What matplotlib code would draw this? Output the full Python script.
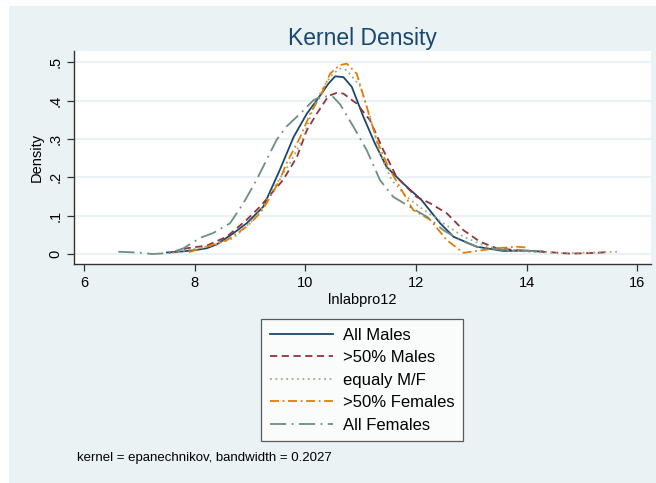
import matplotlib.pyplot as plt
from matplotlib.patches import Rectangle

plt.rcParams['font.family'] = ['Liberation Sans', 'DejaVu Sans']

labels = ["All Males", ">50% Males", "equaly M/F", ">50% Females", "All Females"]

x_all_m = [7.5, 7.8, 8.0, 8.22, 8.4, 8.7, 8.94, 9.24, 9.54, 9.79, 10.03, 10.21,
           10.42, 10.54, 10.69, 10.84, 11.05, 11.26, 11.47, 11.77, 12.1, 12.44,
           12.68, 13.1, 13.58, 14.0, 14.3]
y_all_m = [0.004, 0.007, 0.010, 0.015, 0.025, 0.054, 0.080, 0.123, 0.219, 0.305,
           0.366, 0.401, 0.444, 0.463, 0.461, 0.436, 0.358, 0.288, 0.227, 0.184,
           0.141, 0.080, 0.045, 0.019, 0.008, 0.009, 0.006]

x_gt50_m = [7.6, 7.86, 8.22, 8.58, 8.94, 9.18, 9.42, 9.6, 9.85, 10.03, 10.21,
            10.42, 10.57, 10.69, 10.93, 11.17, 11.41, 11.65, 12.01, 12.26, 12.56,
            12.86, 13.16, 13.46, 13.82, 14.3, 14.79, 15.27, 15.45]
y_gt50_m = [0.004, 0.015, 0.022, 0.045, 0.089, 0.123, 0.163, 0.193, 0.253, 0.323,
            0.366, 0.412, 0.420, 0.418, 0.392, 0.349, 0.271, 0.201, 0.149, 0.132,
            0.106, 0.062, 0.032, 0.015, 0.010, 0.006, 0.001, 0.003, 0.005]

x_eq = [7.6, 7.86, 8.34, 8.7, 9.06, 9.24, 9.48, 9.72, 9.97, 10.15, 10.33, 10.5,
        10.63, 10.75, 11.0, 11.17, 11.35, 11.56, 11.83, 12.14, 12.5, 12.86, 13.22,
        13.58, 14.06, 14.67, 15.2, 15.65]
y_eq = [0.003, 0.010, 0.023, 0.041, 0.089, 0.123, 0.184, 0.236, 0.305, 0.384,
        0.436, 0.47, 0.483, 0.479, 0.436, 0.358, 0.262, 0.193, 0.149, 0.115,
        0.080, 0.045, 0.023, 0.010, 0.006, 0.002, 0.004, 0.006]

x_gt50_f = [7.9, 8.22, 8.58, 8.94, 9.18, 9.3, 9.54, 9.66, 9.91, 10.09, 10.27,
            10.45, 10.62, 10.75, 10.93, 11.11, 11.29, 11.5, 11.71, 11.95, 12.26,
            12.56, 12.86, 13.1, 13.46, 13.82, 14.0]
y_gt50_f = [0.005, 0.019, 0.036, 0.071, 0.106, 0.132, 0.193, 0.236, 0.305, 0.366,
            0.41, 0.47, 0.492, 0.496, 0.470, 0.384, 0.297, 0.227, 0.175, 0.115,
            0.089, 0.036, 0.003, 0.008, 0.015, 0.019, 0.017]

x_all_f = [6.62, 6.95, 7.25, 7.56, 7.8, 8.1, 8.34, 8.64, 8.88, 9.12, 9.3, 9.48,
           9.66, 9.91, 10.15, 10.3, 10.5, 10.63, 10.87, 11.11, 11.35, 11.59, 11.89,
           12.2, 12.5, 12.8, 13.1, 13.46, 13.82, 14.3]
y_all_f = [0.006, 0.004, 0.0, 0.003, 0.015, 0.042, 0.055, 0.080, 0.132, 0.193,
           0.245, 0.297, 0.332, 0.366, 0.401, 0.411, 0.41, 0.39, 0.332, 0.271,
           0.193, 0.149, 0.123, 0.097, 0.062, 0.036, 0.019, 0.012, 0.010, 0.006]

series = [(x_all_m, y_all_m), (x_gt50_m, y_gt50_m), (x_eq, y_eq),
          (x_gt50_f, y_gt50_f), (x_all_f, y_all_f)]
colors = ['#1a476f', '#90353b', '#a3ab82', '#e37e00', '#6e8e84']
styles = ['-', (0, (4, 2.5)), (0, (1, 2)), (0, (5, 2, 1, 2)), (0, (9, 3, 1, 3))]

fig = plt.figure(figsize=(6.56, 4.83), dpi=100, facecolor='white')
fig.patches.append(Rectangle((9 / 656, 0), 1 - 9 / 656, 1 - 6 / 483,
                             transform=fig.transFigure, facecolor='#eaf2f3',
                             edgecolor='none', zorder=-10))

ax = fig.add_axes([74 / 656, 1 - 264 / 483, 577 / 656, 213 / 483])
ax.set_facecolor('white')

for (xs, ys), c, ls, lab in zip(series, colors, styles, labels):
    ax.plot(xs, ys, color=c, linestyle=ls, lw=1.3, label=lab)

ax.set_xlim(5.82, 16.25)
ax.set_ylim(-0.026, 0.529)
ax.set_xticks([6, 8, 10, 12, 14, 16])
ax.set_yticks([0, 0.1, 0.2, 0.3, 0.4, 0.5])
ax.set_yticklabels(['0', '.1', '.2', '.3', '.4', '.5'], rotation=90, va='center')
ax.yaxis.grid(True, color='#eaf2f3', lw=1.5)
ax.set_axisbelow(True)
for s in ['top', 'right']:
    ax.spines[s].set_visible(False)
for s in ['left', 'bottom']:
    ax.spines[s].set_color('#333333')
    ax.spines[s].set_linewidth(1.0)
ax.tick_params(direction='out', length=5, width=0.9, colors='#333333',
               labelcolor='black', labelsize=10.5)

ax.set_xlabel('lnlabpro12', fontsize=10.5, labelpad=2)
ax.set_ylabel('Density', fontsize=10.5, labelpad=3)
ax.set_title('Kernel Density', fontsize=16.5, color='#1a476f', pad=4)

leg = fig.legend(loc='upper center', bbox_to_anchor=(362 / 656, 1 - 311 / 483),
                 fontsize=12, handlelength=3.8, frameon=True, fancybox=False,
                 edgecolor='#333333', borderpad=0.5, labelspacing=0.45,
                 handletextpad=0.6)
leg.get_frame().set_linewidth(0.9)

fig.text(77 / 656, 1 - 458 / 483, 'kernel = epanechnikov, bandwidth = 0.2027',
         fontsize=9.5, va='center', ha='left')

fig.savefig('out.png', dpi=100, facecolor=fig.get_facecolor())
